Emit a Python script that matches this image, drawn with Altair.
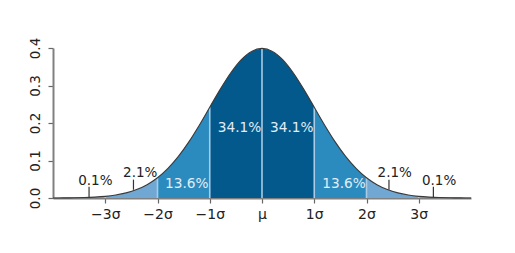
import altair as alt
import pandas as pd

xs = [-4.0, -3.8, -3.6, -3.4, -3.2, -3.0, -2.8, -2.6, -2.4, -2.2, -2.0,
      -1.8, -1.6, -1.4, -1.2, -1.0, -0.8, -0.6, -0.4, -0.2, 0.0,
      0.2, 0.4, 0.6, 0.8, 1.0, 1.2, 1.4, 1.6, 1.8, 2.0,
      2.2, 2.4, 2.6, 2.8, 3.0, 3.2, 3.4, 3.6, 3.8, 4.0]
ys = [0.0001, 0.0003, 0.0006, 0.0012, 0.0024, 0.0044, 0.0079, 0.0136, 0.0224, 0.0355, 0.0540,
      0.0790, 0.1109, 0.1497, 0.1942, 0.2420, 0.2897, 0.3332, 0.3683, 0.3910, 0.3989,
      0.3910, 0.3683, 0.3332, 0.2897, 0.2420, 0.1942, 0.1497, 0.1109, 0.0790, 0.0540,
      0.0355, 0.0224, 0.0136, 0.0079, 0.0044, 0.0024, 0.0012, 0.0006, 0.0003, 0.0001]

# Bands between sigma boundaries
band_edges = [-4, -3, -2, -1, 0, 1, 2, 3, 4]
band_kind = ["light", "light", "mid", "dark", "dark", "mid", "light", "light"]
kind_names = ["dark", "mid", "light"]
kind_colors = ["#04598c", "#2b8bbf", "#71a8d3"]

# Divider lines
divider_x = [-3, -2, -1, 0, 1, 2, 3]

# Percent labels (inside the curve: light text; outside: dark text)
in_text = ["13.6%", "34.1%", "34.1%", "13.6%"]
in_x = [-1.44, -0.43, 0.57, 1.57]
in_y = [0.038, 0.187, 0.187, 0.038]
out_text = ["0.1%", "2.1%", "2.1%", "0.1%"]
out_x = [-3.19, -2.33, 2.54, 3.39]
out_y = [0.046, 0.0675, 0.0675, 0.046]

# Small pointer ticks under the outer labels
ptr_x = [-3.31, -2.46, 2.43, 3.28]
ptr_y = [0.003, 0.022, 0.022, 0.003]
ptr_y2 = [0.030, 0.049, 0.049, 0.030]

tick_vals = [-3, -2, -1, 0, 1, 2, 3]
tick_labels = ["−3σ", "−2σ", "−1σ", "μ", "1σ", "2σ", "3σ"]
y_ticks = [0, 0.1, 0.2, 0.3, 0.4]

# Build tables
rows = []
for i in range(len(band_edges) - 1):
    a, b = band_edges[i], band_edges[i + 1]
    for x, y in zip(xs, ys):
        if a - 1e-9 <= x <= b + 1e-9:
            rows.append({"x": x, "y": y, "seg": i, "kind": band_kind[i]})
area_df = pd.DataFrame(rows)
curve_df = pd.DataFrame({"x": xs, "y": ys})
lookup = dict(zip(xs, ys))
div_df = pd.DataFrame({"x": divider_x, "y0": [0.0] * len(divider_x),
                       "y1": [lookup[float(v)] for v in divider_x]})
in_df = pd.DataFrame({"x": in_x, "y": in_y, "t": in_text})
out_df = pd.DataFrame({"x": out_x, "y": out_y, "t": out_text})
ptr_df = pd.DataFrame({"x": ptr_x, "y": ptr_y, "y2": ptr_y2})

expr = "''"
for v, t in zip(tick_vals, tick_labels):
    expr = f"datum.value == {v} ? '{t}' : ({expr})"

xscale = alt.Scale(domain=[-4, 4], nice=False, zero=False)
yscale = alt.Scale(domain=[0, 0.4], nice=False)

xaxis = alt.Axis(values=tick_vals, labelExpr=expr, grid=False, title=None,
                 domainColor="#808080", domainWidth=2, tickColor="#666666", tickSize=5,
                 tickWidth=1.2, labelFont="DejaVu Sans", labelFontSize=14,
                 labelColor="#222222", labelPadding=4)
yaxis = alt.Axis(values=y_ticks, format=".1f", grid=False, title=None,
                 domainColor="#808080", domainWidth=2, tickColor="#666666", tickSize=5,
                 tickWidth=1.2, labelFont="DejaVu Sans", labelFontSize=13.5,
                 labelColor="#222222", labelAngle=-90, labelAlign="center",
                 labelBaseline="bottom", labelPadding=6)


def X(f):
    return alt.X(f, scale=xscale, axis=xaxis)


def Y(f, **kw):
    return alt.Y(f, scale=yscale, axis=yaxis, **kw)


area = alt.Chart(area_df).mark_area(interpolate="monotone").encode(
    x=X("x:Q"),
    y=Y("y:Q", stack=None),
    color=alt.Color("kind:N", scale=alt.Scale(domain=kind_names, range=kind_colors), legend=None),
    detail="seg:N",
)

dividers = alt.Chart(div_df).mark_rule(color="#a9cbe5", strokeWidth=1.6).encode(
    x=X("x:Q"), y=Y("y0:Q"), y2="y1:Q"
)

outline = alt.Chart(curve_df).mark_line(interpolate="monotone", color="#3a3a3a", strokeWidth=1.1).encode(
    x=X("x:Q"), y=Y("y:Q")
)

pointers = alt.Chart(ptr_df).mark_rule(color="#333333", strokeWidth=1.2).encode(
    x=X("x:Q"), y=Y("y:Q"), y2="y2:Q"
)

in_labels = alt.Chart(in_df).mark_text(font="DejaVu Sans", fontSize=13.7, baseline="middle",
                                       align="center", color="#e2edf5").encode(
    x=X("x:Q"), y=Y("y:Q"), text="t:N"
)
out_labels = alt.Chart(out_df).mark_text(font="DejaVu Sans", fontSize=13.5, baseline="middle",
                                         align="center", color="#222222").encode(
    x=X("x:Q"), y=Y("y:Q"), text="t:N"
)

chart = alt.layer(area, dividers, outline, pointers, in_labels, out_labels).properties(
    width=418, height=150,
    background="white",
    autosize=alt.AutoSizeParams(type="none"),
    padding={"left": 53, "top": 48, "right": 44, "bottom": 55},
).configure_view(stroke=None)

chart.save("out.html", embed_options={"renderer": "svg", "actions": False})
